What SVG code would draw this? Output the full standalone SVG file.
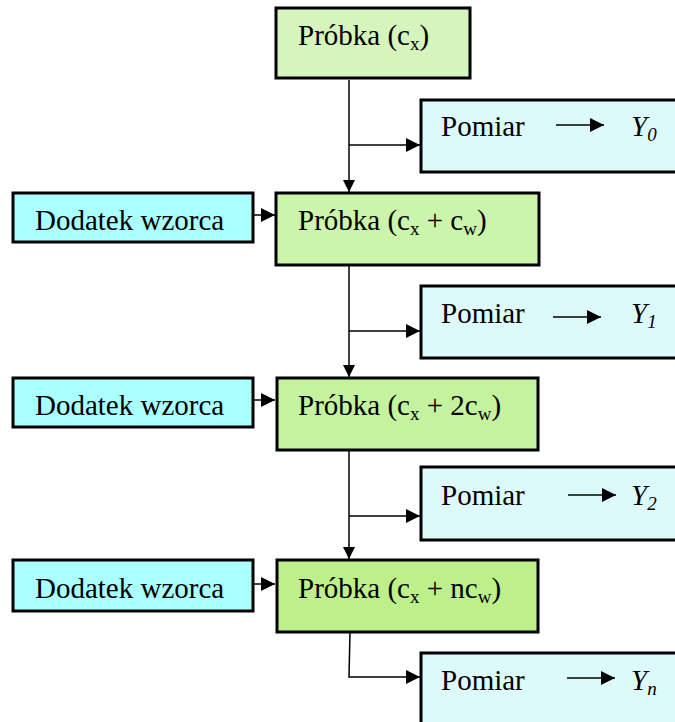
<svg xmlns="http://www.w3.org/2000/svg" width="675" height="722" viewBox="0 0 675 722">
<defs>
<marker id="ah" viewBox="0 0 10 10" refX="10" refY="5" markerWidth="14" markerHeight="14" markerUnits="userSpaceOnUse" orient="auto"><path d="M0,0 L10,5 L0,10 Z" fill="#000"/></marker>
<marker id="ahs" viewBox="0 0 10 10" refX="10" refY="5" markerWidth="12" markerHeight="12" markerUnits="userSpaceOnUse" orient="auto"><path d="M0,0 L10,5 L0,10 Z" fill="#000"/></marker>
</defs>
<style>
.box{stroke:#000;stroke-width:3}
text{font-family:'Liberation Serif',serif;font-size:29px;fill:#000}
.i{font-style:italic}
.c{fill:none;stroke:#000;stroke-width:1.5}
</style>
<rect width="675" height="722" fill="#fff"/>
<g id="connectors">
<line class="c" x1="349" y1="80" x2="349" y2="192" marker-end="url(#ahs)"/>
<line class="c" x1="349" y1="145" x2="420" y2="145" stroke-width="2" marker-end="url(#ah)"/>
<line class="c" x1="253" y1="215" x2="275" y2="215" stroke-width="2.5" marker-end="url(#ah)"/>
<line class="c" x1="349" y1="265" x2="349" y2="377" marker-end="url(#ahs)"/>
<line class="c" x1="349" y1="331" x2="420" y2="331" marker-end="url(#ah)"/>
<line class="c" x1="253" y1="400" x2="275" y2="400" stroke-width="2.5" marker-end="url(#ah)"/>
<line class="c" x1="349" y1="450" x2="349" y2="559" marker-end="url(#ahs)"/>
<line class="c" x1="349" y1="516" x2="420" y2="516" marker-end="url(#ah)"/>
<line class="c" x1="253" y1="584" x2="275" y2="584" stroke-width="2.5" marker-end="url(#ah)"/>
<polyline class="c" points="350,632 349,677 420,677" marker-end="url(#ah)"/>
</g>
<g id="probka0">
<rect class="box" x="276" y="8" width="194" height="70" fill="#d5f5bd"/>
<text x="298" y="45" font-family="Liberation Serif, serif">Próbka (c<tspan font-size="19" dy="5">x</tspan><tspan dy="-5">)</tspan></text>
</g>
<g id="pomiar0">
<rect class="box" x="421" y="100" width="260" height="72" fill="#ddfafa"/>
<text x="441" y="136">Pomiar</text>
<line class="c" x1="556" y1="125" x2="604" y2="125" stroke-width="2" marker-end="url(#ah)"/>
<text class="i" x="631" y="136">Y<tspan font-size="19" dy="5">0</tspan></text>
</g>
<g id="dodatek1">
<rect class="box" x="13" y="193" width="240" height="49" fill="#aaffff"/>
<text x="35" y="230">Dodatek wzorca</text>
</g>
<g id="probka1">
<rect class="box" x="276" y="193" width="263" height="72" fill="#ccf4aa"/>
<text x="298" y="230">Próbka (c<tspan font-size="19" dy="5">x</tspan><tspan dy="-5"> + c</tspan><tspan font-size="19" dy="5">w</tspan><tspan dy="-5">)</tspan></text>
</g>
<g id="pomiar1">
<rect class="box" x="421" y="286" width="260" height="72" fill="#ddfafa"/>
<text x="441" y="323">Pomiar</text>
<line class="c" x1="553" y1="317" x2="601" y2="317" marker-end="url(#ah)"/>
<text class="i" x="631" y="323">Y<tspan font-size="19" dy="5">1</tspan></text>
</g>
<g id="dodatek2">
<rect class="box" x="13" y="378" width="240" height="49" fill="#aaffff"/>
<text x="35" y="415">Dodatek wzorca</text>
</g>
<g id="probka2">
<rect class="box" x="277" y="378" width="261" height="72" fill="#c5f29e"/>
<text x="298" y="415">Próbka (c<tspan font-size="19" dy="5">x</tspan><tspan dy="-5"> + 2c</tspan><tspan font-size="19" dy="5">w</tspan><tspan dy="-5">)</tspan></text>
</g>
<g id="pomiar2">
<rect class="box" x="421" y="467" width="260" height="73" fill="#ddfafa"/>
<text x="441" y="505">Pomiar</text>
<line class="c" x1="568" y1="495" x2="616" y2="495" marker-end="url(#ah)"/>
<text class="i" x="631" y="505">Y<tspan font-size="19" dy="5">2</tspan></text>
</g>
<g id="dodatek3">
<rect class="box" x="13" y="560" width="240" height="51" fill="#aaffff"/>
<text x="35" y="598">Dodatek wzorca</text>
</g>
<g id="probka3">
<rect class="box" x="277" y="560" width="261" height="72" fill="#bdf08a"/>
<text x="298" y="598">Próbka (c<tspan font-size="19" dy="5">x</tspan><tspan dy="-5"> + nc</tspan><tspan font-size="19" dy="5">w</tspan><tspan dy="-5">)</tspan></text>
</g>
<g id="pomiarn">
<rect class="box" x="421" y="653" width="260" height="80" fill="#ddfafa"/>
<text x="441" y="690">Pomiar</text>
<line class="c" x1="567" y1="678" x2="615" y2="678" marker-end="url(#ah)"/>
<text class="i" x="631" y="690">Y<tspan font-size="19" dy="5">n</tspan></text>
</g>
</svg>
